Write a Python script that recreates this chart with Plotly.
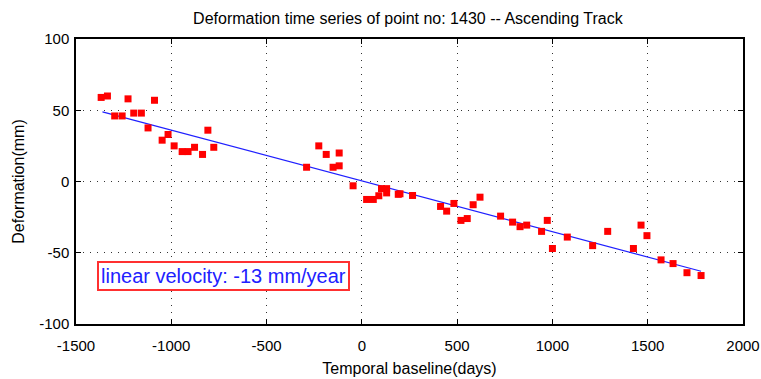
import plotly.graph_objects as go

# Observed deformation points
days = [-1368, -1335, -1297, -1258, -1227, -1197, -1157, -1122, -1088, -1048,
        -1017, -985, -943, -912, -878, -836, -808, -777,
        -290, -226, -187, -151, -119, -119, -46,
        25, 60, 89, 103, 130, 130, 191, 200, 266,
        413, 445, 483, 520, 553, 584, 620, 728, 791, 830, 865,
        943, 973, 1000, 1078, 1211, 1290, 1425, 1465, 1496,
        1570, 1633, 1706, 1780]
defo = [59, 60, 46, 46, 58, 48, 48, 37.6, 57, 29,
        33, 25, 21, 21, 24, 19, 36, 24,
        10, 25, 19, 10, 20, 11, -3,
        -12.6, -12.6, -10, -5, -5, -8, -9, -8.6, -9.8,
        -17.5, -20.8, -15.4, -27.3, -26, -16.3, -11, -24.3, -28.5, -31.7, -30.6,
        -35, -27.3, -47, -39, -45, -35, -47, -30.6, -38,
        -55, -57.6, -64, -66]

# Linear fit
fit_x = [-1361, 1780]
velocity_mm_per_year = -13.0
intercept_mm = 0.4
fit_y = [intercept_mm + velocity_mm_per_year / 365.0 * x for x in fit_x]

x_ticks = [-1500, -1000, -500, 0, 500, 1000, 1500, 2000]
x_tick_labels = ["-1500", "-1000", "-500", "0", "500", "1000", "1500", "2000"]
y_ticks = [-100, -50, 0, 50, 100]
y_tick_labels = ["-100", "-50", "0", "50", "100"]

FONT = "Liberation Sans, Arial"

fig = go.Figure()
fig.add_trace(go.Scatter(x=fit_x, y=fit_y, mode="lines",
                         line=dict(color="#2020ff", width=1.2),
                         showlegend=False, hoverinfo="skip"))
fig.add_trace(go.Scatter(x=days, y=defo, mode="markers",
                         marker=dict(symbol="square", size=7, color="#ff0000",
                                     line=dict(width=0)),
                         showlegend=False))

fig.add_annotation(x=-725, y=-66.5, xref="x", yref="y",
                   text="linear velocity: -13 mm/year", showarrow=False,
                   font=dict(family=FONT, size=20, color="#2020ff"),
                   bordercolor="#ff3030", borderwidth=2, borderpad=2,
                   bgcolor="white")

axis_common = dict(showline=True, linecolor="black", linewidth=1.5, mirror="ticks",
                   ticks="inside", ticklen=5, tickcolor="black",
                   showgrid=True, gridcolor="#333333", griddash="1px,6px", gridwidth=1.2,
                   zeroline=False, automargin=False,
                   tickfont=dict(family=FONT, size=15, color="black"))

fig.update_xaxes(range=[-1500, 2000], tickvals=x_ticks, ticktext=x_tick_labels, **axis_common,
                 ticklabelstandoff=7,
                 title=dict(text="Temporal baseline(days)", standoff=10,
                            font=dict(family=FONT, size=16, color="black")))
fig.update_yaxes(range=[-100, 100], tickvals=y_ticks, ticktext=y_tick_labels, **axis_common,
                 ticklabelstandoff=2,
                 title=dict(text="Deformation(mm)", standoff=11,
                            font=dict(family=FONT, size=16, color="black")))

fig.update_layout(
    width=761, height=379,
    margin=dict(l=76, r=18, t=39, b=55),
    paper_bgcolor="white", plot_bgcolor="white",
    title=dict(text="Deformation time series of point no: 1430 -- Ascending Track",
               x=0.536, xanchor="center", y=0.952, yanchor="middle",
               font=dict(family=FONT, size=16, color="black")),
)

fig.write_html("out.html", config={"displayModeBar": False},
               post_script="document.body.style.margin='0';document.body.style.overflow='hidden';")
